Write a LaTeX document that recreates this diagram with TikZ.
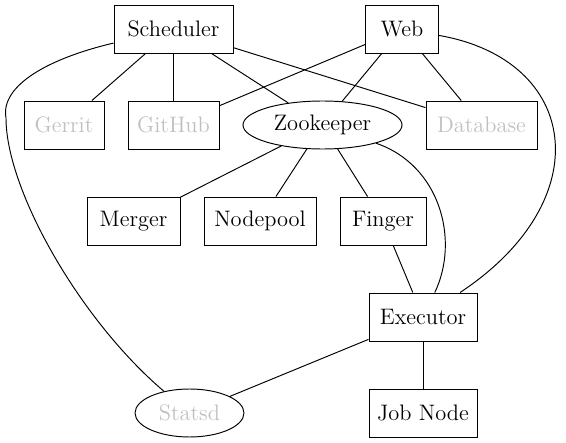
\documentclass[tikz,border=0pt]{standalone}
\usepackage{fontspec}
\usepackage{xcolor}
\usepackage{tikz}
\usetikzlibrary{shapes.geometric}
\definecolor{fadedgray}{RGB}{192,192,192}

\begin{document}
\begin{tikzpicture}[x=0.625pt, y=-0.625pt, line width=0.6pt,
    comp/.style={draw, rectangle, minimum height=30pt, inner sep=0pt, font=\fontsize{14}{17}\selectfont},
    service/.style={draw, ellipse, minimum height=30pt, inner sep=0pt, font=\fontsize{14}{17}\selectfont},
    external/.style={text=fadedgray}]
  \useasboundingbox (0,0) rectangle (566,443);

  \node[comp, minimum width=74.4pt] (scheduler) at (173.5,29) {Scheduler};
  \node[comp, minimum width=45.6pt] (web) at (402,29) {Web};
  \node[comp, external, minimum width=50pt] (gerrit) at (64,125) {Gerrit};
  \node[comp, external, minimum width=56.9pt] (github) at (173.5,125) {GitHub};
  \node[service, minimum width=99.4pt] (zookeeper) at (322.5,125) {Zookeeper};
  \node[comp, external, minimum width=69.4pt] (database) at (481.5,125) {Database};
  \node[comp, minimum width=58.1pt] (merger) at (133.5,221) {Merger};
  \node[comp, minimum width=70pt] (nodepool) at (260,221) {Nodepool};
  \node[comp, minimum width=53.75pt] (finger) at (383,221) {Finger};
  \node[comp, minimum width=67.5pt] (executor) at (423,317) {Executor};
  \node[comp, minimum width=67.5pt] (jobnode) at (423,413) {Job Node};
  \node[service, external, minimum width=68.1pt] (statsd) at (189.5,413) {Statsd};

  \draw (scheduler) -- (gerrit);
  \draw (scheduler) -- (github);
  \draw (scheduler) -- (zookeeper);
  \draw (scheduler) -- (database);
  \draw (scheduler) .. controls (50,58) and (0,85) .. (6,118)
                    .. controls (6,190) and (80,320) .. (statsd);
  \draw (web) -- (github);
  \draw (web) -- (zookeeper);
  \draw (web) -- (database);
  \draw (web) .. controls (580,60) and (600,200) .. (executor);
  \draw (zookeeper) -- (merger);
  \draw (zookeeper) -- (nodepool);
  \draw (zookeeper) -- (finger);
  \draw (zookeeper) .. controls (440,165) and (460,240) .. (executor);
  \draw (finger) -- (executor);
  \draw (executor) -- (statsd);
  \draw (executor) -- (jobnode);
\end{tikzpicture}
\end{document}
